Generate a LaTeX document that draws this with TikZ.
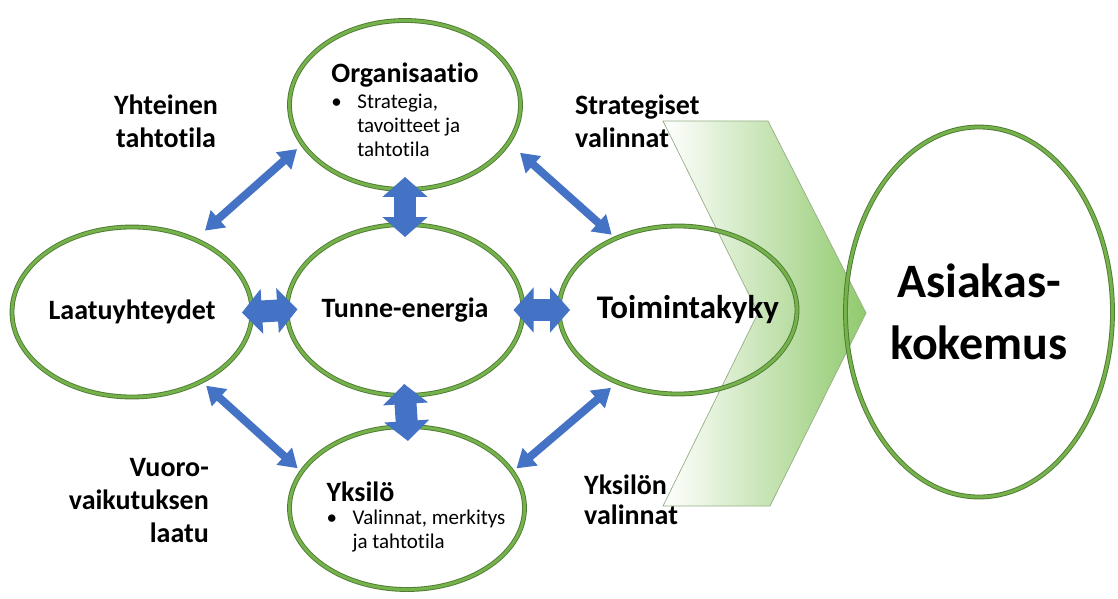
\documentclass[tikz,border=0pt]{standalone}
\usepackage{fontspec}
\setmainfont{Carlito}[Ligatures=NoCommon]
\usetikzlibrary{shapes.geometric,arrows.meta,positioning}

\definecolor{ringgreen}{RGB}{118,178,76}
\definecolor{ringdark}{RGB}{78,122,50}
\definecolor{arrowblue}{RGB}{68,114,196}
\definecolor{chevgreen}{RGB}{145,202,110}

\begin{document}
\begin{tikzpicture}[
    x=1pt, y=-1pt,
    ring/.style={ellipse, draw=ringdark, double=ringgreen, double distance=3pt, line width=0.9pt, inner sep=0pt, align=center},
    bigarrow/.style={line width=22pt, draw=arrowblue, {Triangle[width=44pt,length=20pt]}-{Triangle[width=44pt,length=20pt]}},
    thinarrow/.style={line width=8pt, draw=arrowblue, {Triangle[width=22pt,length=18pt]}-{Triangle[width=22pt,length=18pt]}},
    sidetext/.style={font=\fontsize{28}{33}\selectfont\bfseries, inner sep=0pt},
    bullettext/.style={font=\fontsize{21}{24}\selectfont, inner sep=0pt}
]
    \useasboundingbox (0,0) rectangle (1118,599);

    % Chevron
    \shadedraw[left color=white, right color=chevgreen, draw=ringdark!60, line width=0.7pt]
        (663,121) -- (768,121) -- (866,313) -- (770,506) -- (663,506) -- (758,313) -- cycle;

    % Rings
    \node[ring, minimum width=231pt, minimum height=169pt] (org) at (405,105) {};
    \node[ring, minimum width=240pt, minimum height=170pt, font=\fontsize{28}{33}\selectfont\bfseries] (laatu) at (132,312) {Laatuyhteydet};
    \node[ring, minimum width=235pt, minimum height=171pt, font=\fontsize{28}{33}\selectfont\bfseries] (tunne) at (405,310) {Tunne-energia};
    \node[ring, minimum width=238pt, minimum height=168pt] (toim) at (678,310) {};
    \node[ring, minimum width=235pt, minimum height=163pt] (yks) at (407,508) {};
    \node[ring, minimum width=267pt, minimum height=370pt, font=\fontsize{48}{62}\selectfont\bfseries] (asiakas) at (979,312) {Asiakas-\\kokemus};

    % Texts in the rings
    \node[bullettext] (orgtext) at ([yshift=-8pt]org.center) {%
        \begin{tabular}{@{}p{26pt}@{}l@{}}
        \multicolumn{2}{@{}l@{}}{\fontsize{28}{33}\selectfont\bfseries Organisaatio}\\[2pt]
        \textbullet & Strategia,\\
        & tavoitteet ja\\
        & tahtotila
        \end{tabular}};
    \node[font=\fontsize{33}{38}\selectfont\bfseries, inner sep=0pt] (toimtext) at ([xshift=10pt]toim.center) {Toimintakyky};
    \node[bullettext] (ykstext) at ([xshift=9pt,yshift=-11pt]yks.center) {%
        \begin{tabular}{@{}p{26pt}@{}l@{}}
        \multicolumn{2}{@{}l@{}}{\fontsize{28}{33}\selectfont\bfseries Yksilö}\\[-1pt]
        \textbullet & Valinnat, merkitys\\
        & ja tahtotila
        \end{tabular}};

    % Side texts
    \node[sidetext, align=center, anchor=base] (yhteinen) at (166,147) {Yhteinen\\tahtotila};
    \node[sidetext, align=left, anchor=base west] (strat) at (575,147) {Strategiset\\valinnat};
    \node[sidetext, align=right, anchor=base east] (vuoro) at (209,542) {Vuoro-\\vaikutuksen\\laatu};
    \node[sidetext, align=left, anchor=base west] (yksval) at (584,524) {Yksilön\\[-3pt]valinnat};

    % Block arrows
    \draw[bigarrow, shorten <=-10.5pt, shorten >=-11pt] (laatu.east) -- (tunne.west);
    \draw[bigarrow, shorten <=-10pt, shorten >=-11.5pt] (tunne.east) -- (toim.west);
    \draw[bigarrow, shorten <=-13pt, shorten >=-13pt] (org.south) -- (tunne.north);
    \draw[bigarrow, shorten <=-12pt, shorten >=-15pt] (tunne.south) -- (yks.north);

    % Diagonal arrows
    \draw[thinarrow, shorten <=13pt, shorten >=7pt] (laatu.49) -- (org.201);
    \draw[thinarrow, shorten <=15pt, shorten >=5pt] (org.340) -- (toim.131);
    \draw[thinarrow, shorten <=6pt, shorten >=5pt] (laatu.315) -- (yks.161);
    \draw[thinarrow, shorten <=5pt, shorten >=8pt] (yks.19) -- (toim.230);
\end{tikzpicture}
\end{document}
